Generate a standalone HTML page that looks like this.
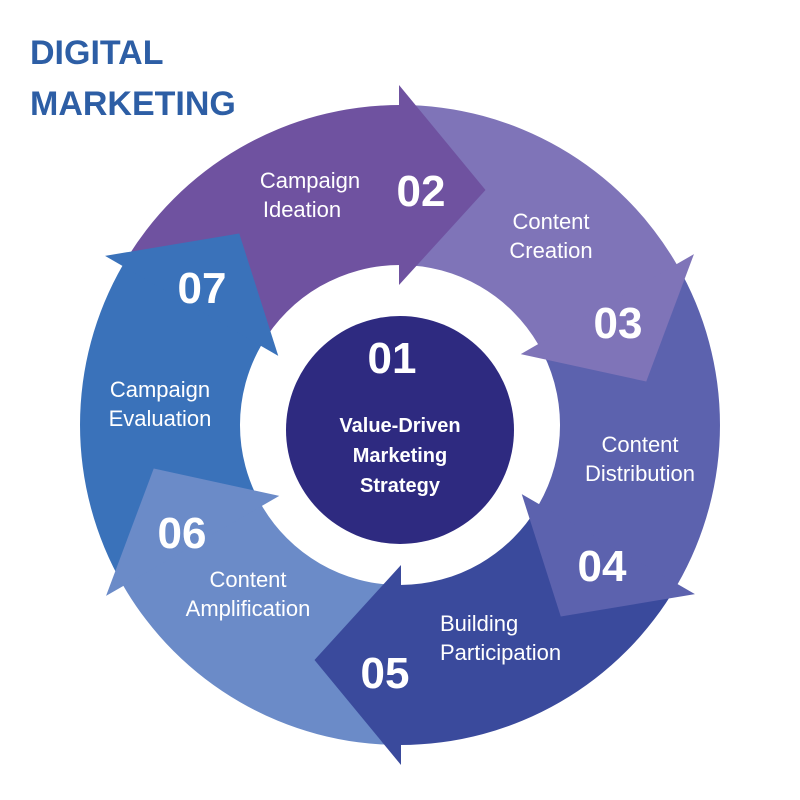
<!DOCTYPE html>
<html><head><meta charset="utf-8"><style>
html,body{margin:0;padding:0;background:#fff}
svg{display:block}
text{font-family:"Liberation Sans",sans-serif}
</style></head><body>
<svg width="800" height="800" viewBox="0 0 800 800" xmlns="http://www.w3.org/2000/svg">
<defs>
<path id="body" d="M122.9,265 A320,320 0 0 1 400,105 L400,265 A160,160 0 0 0 261.4,345 Z"/>
<path id="head" d="M399,85 L485.5,190 L399,285 Z"/>
</defs>
<rect width="800" height="800" fill="#fff"/>
<text x="30" y="64" font-size="34" font-weight="bold" fill="#2d5ea5">DIGITAL</text>
<text x="30" y="115" font-size="34" font-weight="bold" fill="#2d5ea5">MARKETING</text>

<use href="#body" fill="#6f52a0"/>
<use href="#body" fill="#7f74b8" transform="rotate(60 400 425)"/>
<use href="#body" fill="#5c62ae" transform="rotate(120 400 425)"/>
<use href="#body" fill="#3a4a9c" transform="rotate(180 400 425)"/>
<use href="#body" fill="#6b8bc8" transform="rotate(240 400 425)"/>
<use href="#body" fill="#3a72ba" transform="rotate(300 400 425)"/>

<use href="#head" fill="#6f52a0"/>
<use href="#head" fill="#7f74b8" transform="rotate(60 400 425)"/>
<use href="#head" fill="#5c62ae" transform="rotate(120 400 425)"/>
<use href="#head" fill="#3a4a9c" transform="rotate(180 400 425)"/>
<use href="#head" fill="#6b8bc8" transform="rotate(240 400 425)"/>
<use href="#head" fill="#3a72ba" transform="rotate(300 400 425)"/>

<circle cx="400" cy="430" r="114" fill="#2e2a80"/>

<g fill="#fff" text-anchor="middle">
<text x="392" y="373" font-size="44" font-weight="bold">01</text>
<text x="400" y="432" font-size="20" font-weight="bold">Value-Driven</text>
<text x="400" y="462" font-size="20" font-weight="bold">Marketing</text>
<text x="400" y="492" font-size="20" font-weight="bold">Strategy</text>

<g font-size="44" font-weight="bold">
<text x="421" y="206">02</text>
<text x="618" y="338">03</text>
<text x="602" y="581">04</text>
<text x="385" y="688">05</text>
<text x="182" y="548">06</text>
<text x="202" y="303">07</text>
</g>
<g font-size="22">
<text x="310" y="188">Campaign</text>
<text x="302" y="217">Ideation</text>
<text x="551" y="229">Content</text>
<text x="551" y="258">Creation</text>
<text x="640" y="452">Content</text>
<text x="640" y="481">Distribution</text>
<text x="440" y="631" text-anchor="start">Building</text>
<text x="440" y="660" text-anchor="start">Participation</text>
<text x="248" y="587">Content</text>
<text x="248" y="616">Amplification</text>
<text x="160" y="397">Campaign</text>
<text x="160" y="426">Evaluation</text>
</g>
</g>
</svg>
</body></html>
